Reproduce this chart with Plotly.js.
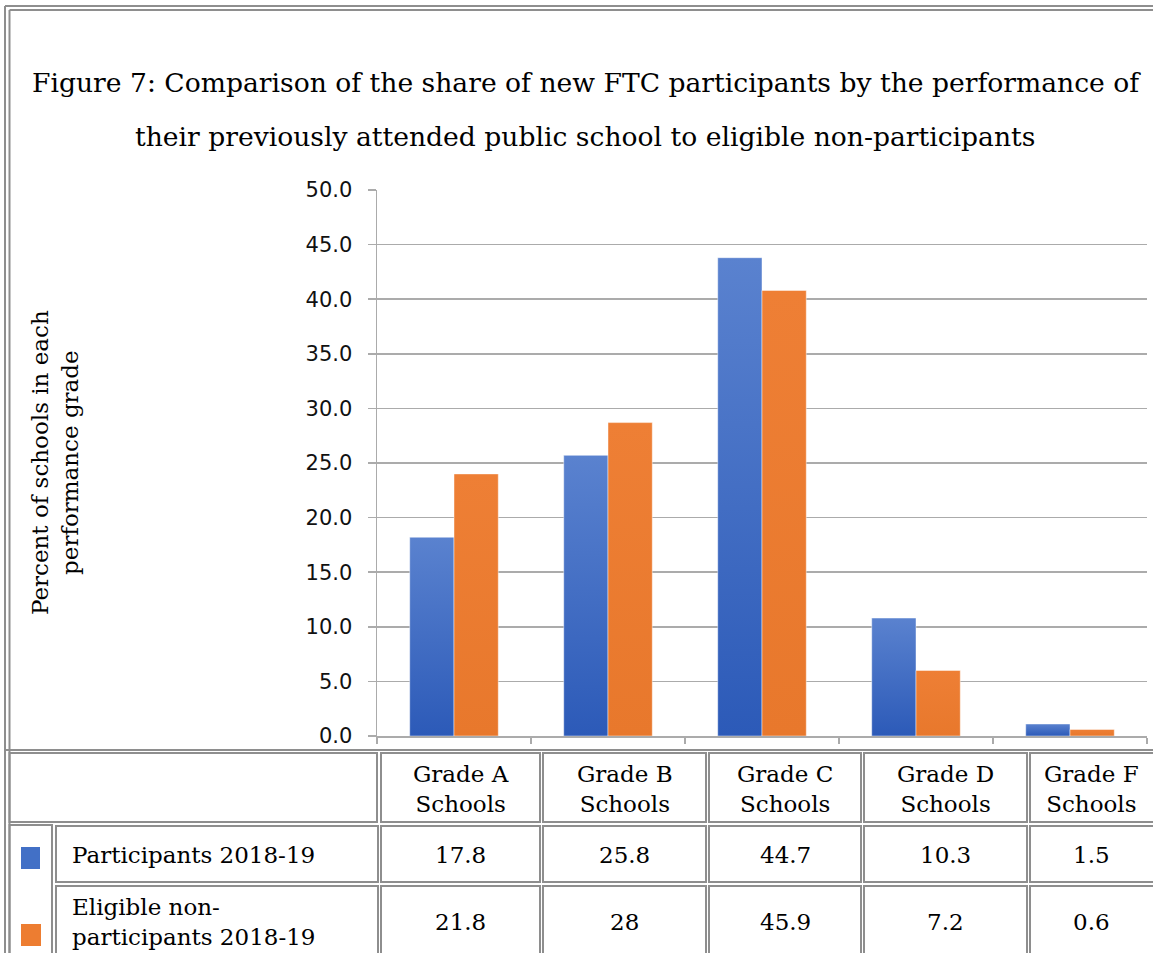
<!DOCTYPE html>
<html>
<head>
<meta charset="utf-8">
<script src="https://cdn.plot.ly/plotly-3.0.1.min.js"></script>
<style>
html,body{margin:0;padding:0;background:#fff;}
#chart{width:1153px;height:953px;}
</style>
</head>
<body>
<svg width="0" height="0" style="position:absolute;width:0;height:0">
  <defs>
    <linearGradient id="blueGrad" x1="0" y1="0" x2="0" y2="1">
      <stop offset="0" stop-color="#5A82CF"/>
      <stop offset="1" stop-color="#2C5AB8"/>
    </linearGradient>
    <linearGradient id="orangeGrad" x1="0" y1="0" x2="0" y2="1">
      <stop offset="0" stop-color="#EE7F35"/>
      <stop offset="1" stop-color="#E8782C"/>
    </linearGradient>
  </defs>
</svg>
<div id="chart"></div>
<script>
// ---------------- DATA ----------------
const categories = ["Grade A Schools", "Grade B Schools", "Grade C Schools", "Grade D Schools", "Grade F Schools"];
const headerLabels = ["Grade A<br>Schools", "Grade B<br>Schools", "Grade C<br>Schools", "Grade D<br>Schools", "Grade F<br>Schools"];
const seriesNames = ["Participants 2018-19", "Eligible non-<br>participants 2018-19"];
// bar heights as drawn in the chart
const participantsBars = [18.2, 25.7, 43.8, 10.8, 1.1];
const eligibleBars = [24.0, 28.7, 40.8, 6.0, 0.6];
// values printed in the data table
const participantsTable = ["17.8", "25.8", "44.7", "10.3", "1.5"];
const eligibleTable = ["21.8", "28", "45.9", "7.2", "0.6"];
const yTicks = [0, 5, 10, 15, 20, 25, 30, 35, 40, 45, 50];
const titleLines = ["Figure 7: Comparison of the share of new FTC participants by the performance of",
                    "their previously attended public school to eligible non-participants"];
const yTitle = "Percent of schools in each<br>performance grade";

// ---------------- LAYOUT HELPERS ----------------
const W = 1153, H = 953, L = 377, R = 1147, T = 190, B = 736;
const px = x => (x - L) / (R - L);
const py = y => (B - y) / (B - T);
const GRID = '#ABABAB';
const BORDER = '#8E8E8E';
const SERIF = 'DejaVu Serif, serif';
const BLUE = '#4270C6', ORANGE = '#ED7D31';

function rect(x0, y0, x1, y1, opts) {
  opts = opts || {};
  return {type: 'rect', xref: 'paper', yref: 'paper', layer: 'above',
    x0: px(x0), x1: px(x1), y0: py(y1), y1: py(y0),
    line: {color: opts.fill ? 'rgba(0,0,0,0)' : BORDER, width: opts.fill ? 0 : 2},
    fillcolor: opts.fill || 'rgba(0,0,0,0)'};
}
function line(x0, y0, x1, y1) {
  return {type: 'line', xref: 'paper', yref: 'paper', layer: 'above',
    x0: px(x0), x1: px(x1), y0: py(y0), y1: py(y1),
    line: {color: BORDER, width: 2}};
}
function text(t, x, y, o) {
  o = o || {};
  return {xref: 'paper', yref: 'paper', x: px(x), y: py(y), text: t, showarrow: false,
    xanchor: o.xanchor || 'center', yanchor: 'middle', align: o.align || 'center',
    textangle: o.angle || 0,
    font: {family: SERIF, size: o.size || 23, color: '#000'}};
}

const shapes = [];
// outer double frame
shapes.push(line(5, 6, 1160, 6));
shapes.push(line(9.5, 10, 1160, 10));
shapes.push(line(5, 6, 5, 960));
shapes.push(line(9.5, 10, 9.5, 960));
// table top border
shapes.push(line(5, 750, 1160, 750));

// table cells
const cols = [[381, 540], [543, 706], [709, 861], [864, 1027], [1030, 1158]];
shapes.push(rect(9.5, 753, 377, 822));
shapes.push(rect(9.5, 825, 52, 962));
shapes.push(rect(56, 826, 378, 882));
shapes.push(rect(56, 886, 378, 962));
cols.forEach(c => {
  shapes.push(rect(c[0], 753, c[1], 822));
  shapes.push(rect(c[0], 826, c[1], 882));
  shapes.push(rect(c[0], 886, c[1], 962));
});
// legend keys
shapes.push(rect(21, 847, 40, 869, {fill: BLUE}));
shapes.push(rect(21, 924, 41, 946, {fill: ORANGE}));

const annotations = [];
annotations.push(text(titleLines[0], 586, 82, {size: 26.6}));
annotations.push(text(titleLines[1], 585, 137, {size: 26.6}));
annotations.push(text(yTitle, 55, 463, {angle: -90}));
cols.forEach((c, i) => {
  const cx = (c[0] + Math.min(c[1], 1153)) / 2;
  annotations.push(text(headerLabels[i], cx, 789));
  annotations.push(text(participantsTable[i], cx, 855));
  annotations.push(text(eligibleTable[i], cx, 922));
});
annotations.push(text(seriesNames[0], 70, 855, {xanchor: 'left', align: 'left'}));
annotations.push(text(seriesNames[1], 70, 922, {xanchor: 'left', align: 'left'}));

// ---------------- TRACES ----------------
const traces = [
  {type: 'bar', name: 'Participants 2018-19', x: categories, y: participantsBars,
   marker: {color: BLUE, line: {color: 'rgba(255,255,255,0.45)', width: 1}}, hoverinfo: 'y'},
  {type: 'bar', name: 'Eligible non-participants 2018-19', x: categories, y: eligibleBars,
   marker: {color: ORANGE, line: {color: 'rgba(255,255,255,0.45)', width: 1}}, hoverinfo: 'y'}
];

const layout = {
  width: W, height: H,
  margin: {l: L, r: W - R, t: T, b: H - B, pad: 0},
  paper_bgcolor: '#fff', plot_bgcolor: '#fff',
  showlegend: false,
  barmode: 'group', bargap: 0.425, bargroupgap: 0,
  xaxis: {type: 'category', showticklabels: false, showgrid: false, zeroline: false,
    showline: true, linecolor: GRID, linewidth: 1.5,
    ticks: 'outside', tickson: 'boundaries', ticklen: 6, tickcolor: GRID, tickwidth: 1.5,
    fixedrange: true},
  yaxis: {range: [0, 50], tickvals: yTicks, tickformat: '.1f',
    showgrid: true, gridcolor: GRID, gridwidth: 1.5, zeroline: false,
    showline: true, linecolor: GRID, linewidth: 1.5,
    ticks: 'outside', ticklen: 8, tickcolor: GRID, tickwidth: 1.5,
    ticklabelstandoff: 11,
    tickfont: {family: 'DejaVu Sans, sans-serif', size: 21, color: '#111'},
    fixedrange: true},
  shapes: shapes,
  annotations: annotations
};

function applyGradient(gd) {
  const barTraces = gd.querySelectorAll('g.trace.bars');
  const ids = ['blueGrad', 'orangeGrad'];
  barTraces.forEach((tr, i) => {
    if (i > 1) return;
    tr.querySelectorAll('path').forEach(p => {
      p.style.setProperty('fill', 'url("#' + ids[i] + '")');
    });
  });
}

Plotly.newPlot('chart', traces, layout, {displayModeBar: false, staticPlot: true}).then(gd => {
  applyGradient(gd);
  gd.on('plotly_afterplot', () => applyGradient(gd));
  setTimeout(() => applyGradient(gd), 50);
});
</script>
</body>
</html>
